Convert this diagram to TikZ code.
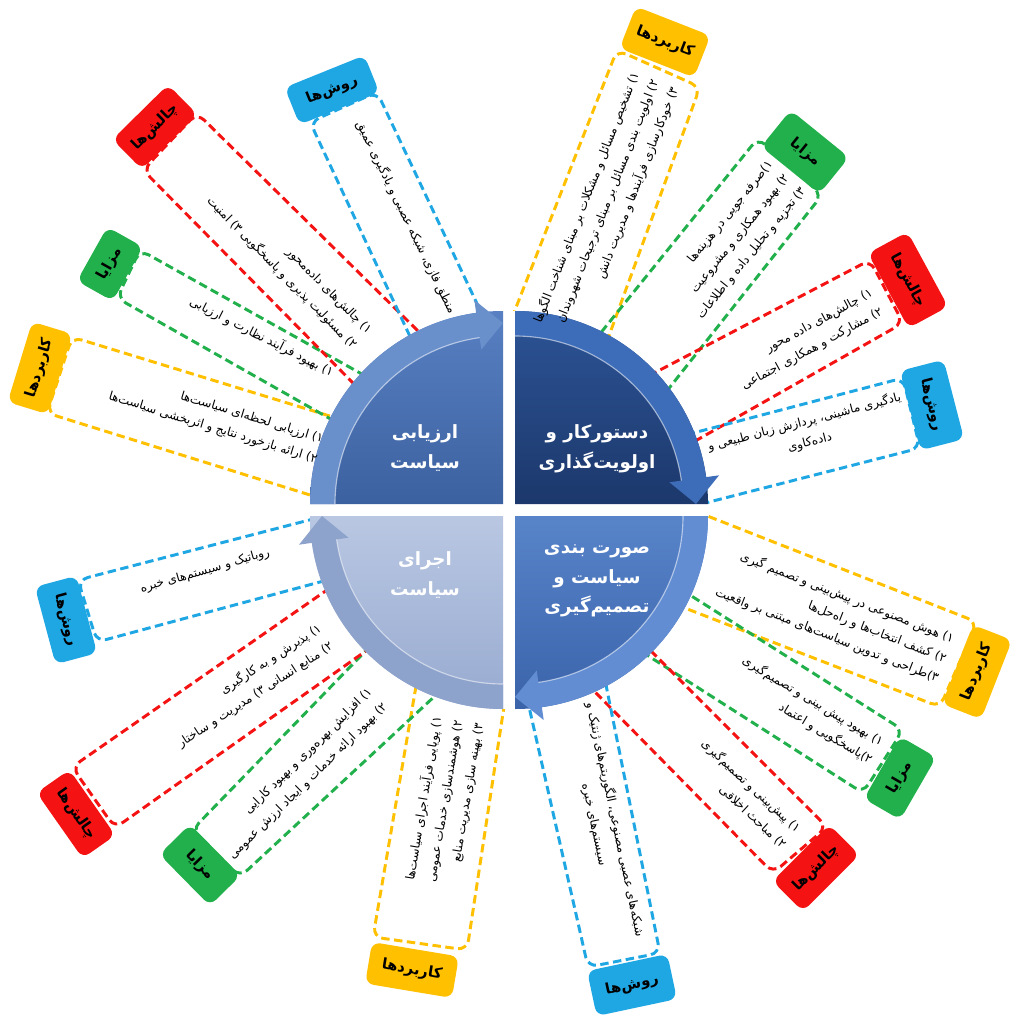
\documentclass[tikz,border=0pt]{standalone}
\usepackage{fontspec}
\usepackage{tikz}
\usetikzlibrary{calc}
\newfontfamily\farsi[Script=Arabic]{DejaVu Sans}
\TeXXeTstate=1

\definecolor{ycol}{HTML}{FFC000}
\definecolor{gcol}{HTML}{21B04B}
\definecolor{rcol}{HTML}{F41212}
\definecolor{bcol}{HTML}{1FA7E4}
\definecolor{tlA}{HTML}{5880C2}
\definecolor{tlB}{HTML}{3C61A0}
\definecolor{tlR}{HTML}{6A90CC}
\definecolor{trA}{HTML}{2D5496}
\definecolor{trB}{HTML}{1C386C}
\definecolor{trR}{HTML}{3D6CB8}
\definecolor{brA}{HTML}{5884CA}
\definecolor{brB}{HTML}{3A63AA}
\definecolor{brR}{HTML}{628DD2}
\definecolor{blA}{HTML}{B9C7E2}
\definecolor{blB}{HTML}{97AAD0}
\definecolor{blR}{HTML}{8EA3CC}

\newcommand{\fa}[1]{\beginR #1\endR}

% dashed strip: #2 inner dir, #3 outer, #4 outer, #5 inner dir
\newcommand{\branchbox}[5]{%
  \draw[boxline, #1] ($#3!8.5cm!#2$) -- #3 -- #4 -- ($#4!8.5cm!#5$);}

% coloured tag at the outer end of a strip
\newcommand{\tagat}[7]{%
  \node[tagbox, fill=#2, rotate=#4, minimum width=#5cm, minimum height=#6cm] (#1) at #3 {\fa{#7}};}

% one quarter of the cycle: corner, start angle, shading, ring colour
\newcommand{\quadpart}[4]{%
  \shade[#3] #1 -- ($#1+(#2:193)$) arc[start angle=#2, delta angle=90, radius=193] -- cycle;
  \fill[#4] ($#1+(#2:168)$) -- ($#1+(#2:193)$) arc[start angle=#2, delta angle=82, radius=193]
    -- ($#1+(#2+82:206)$) -- ($#1+(#2+90:181)$) -- ($#1+(#2+82:156)$) -- ($#1+(#2+82:168)$)
    arc[start angle=#2+82, delta angle=-82, radius=168] -- cycle;
  \draw[white, opacity=.55, line width=.8pt] ($#1+(#2:168)$) arc[start angle=#2, delta angle=82, radius=168];}

\tikzset{
  boxline/.style={line width=2.1pt, dash pattern=on 6pt off 3.2pt, rounded corners=7pt},
  tagbox/.style={rounded corners=6pt, inner sep=0pt, text=black,
    font=\farsi\bfseries\fontsize{10.5}{12}\selectfont},
  bodytext/.style={inner sep=0pt, align=right, font=\farsi\fontsize{8.6}{15}\selectfont},
  quadtext/.style={align=center, text=white, font=\farsi\bfseries\fontsize{13}{21}\selectfont}
}

\begin{document}
\begin{tikzpicture}[x=0.025cm, y=-0.025cm]
\fill[white] (0,0) rectangle (1018,1018);

% strips, top right
\branchbox{ycol}{(515,310)}{(617,50)}{(700,87)}{(610,333)}
\branchbox{gcol}{(603,330)}{(758,138)}{(822,195)}{(670,387)}
\branchbox{rcol}{(660,370)}{(870,260)}{(903,323)}{(697,440)}
\branchbox{bcol}{(697,432)}{(903,378)}{(920,448)}{(717,500)}
% strips, bottom right
\branchbox{ycol}{(710,517)}{(977,622)}{(940,707)}{(690,610)}
\branchbox{gcol}{(693,597)}{(903,730)}{(863,793)}{(650,657)}
\branchbox{rcol}{(653,653)}{(827,827)}{(773,873)}{(600,697)}
\branchbox{bcol}{(607,690)}{(660,953)}{(588,967)}{(532,720)}
% strips, bottom left
\branchbox{ycol}{(505,700)}{(467,950)}{(373,937)}{(415,692)}
\branchbox{gcol}{(380,747)}{(240,877)}{(192,830)}{(350,667)}
\branchbox{rcol}{(363,653)}{(115,828)}{(72,767)}{(327,590)}
\branchbox{bcol}{(320,582)}{(97,642)}{(78,580)}{(317,518)}
% strips, top left
\branchbox{ycol}{(310,495)}{(47,413)}{(72,337)}{(333,417)}
\branchbox{gcol}{(327,417)}{(117,298)}{(140,250)}{(360,373)}
\branchbox{rcol}{(353,383)}{(143,170)}{(197,113)}{(417,330)}
\branchbox{bcol}{(407,330)}{(310,122)}{(377,92)}{(480,310)}

% the cycle
\fill[white] (509,510) circle[radius=199];
\quadpart{(503,504)}{180}{top color=tlA, bottom color=tlB}{tlR}
\quadpart{(515,504)}{270}{top color=trA, bottom color=trB}{trR}
\quadpart{(515,516)}{0}{top color=brA, bottom color=brB}{brR}
\quadpart{(503,516)}{90}{top color=blA, bottom color=blB}{blR}

\node[quadtext] (evaluation) at (425,448) {\fa{ارزیابی}\\\fa{سیاست}};
\node[quadtext] (agenda) at (597,449) {\fa{دستورکار و}\\\fa{اولویت‌گذاری}};
\node[quadtext] (formulation) at (597,581) {\fa{صورت بندی}\\\fa{سیاست و}\\\fa{تصمیم‌گیری}};
\node[quadtext] (implementation) at (425,575) {\fa{اجرای}\\\fa{سیاست}};

% tags
\tagat{useA}{ycol}{(665,42)}{-21.4}{2}{1.125}{کاربردها}
\tagat{proA}{gcol}{(805,152)}{-39}{1.875}{1.175}{مزایا}
\tagat{conA}{rcol}{(908,280)}{-61.5}{2.125}{1.125}{چالش‌ها}
\tagat{metA}{bcol}{(932,405)}{-75.5}{2.05}{1.125}{روش‌ها}
\tagat{useB}{ycol}{(977,672)}{68.6}{2.125}{1.05}{کاربردها}
\tagat{proB}{gcol}{(900,778)}{60}{1.8}{1.05}{مزایا}
\tagat{conB}{rcol}{(816,868)}{45}{2}{1.075}{چالش‌ها}
\tagat{metB}{bcol}{(632,985)}{12}{2.05}{1.15}{روش‌ها}
\tagat{useC}{ycol}{(412,970)}{-9.5}{2.2}{1.05}{کاربردها}
\tagat{proC}{gcol}{(200,865)}{-45.5}{1.8}{1.075}{مزایا}
\tagat{conC}{rcol}{(76,814)}{-55}{2}{1}{چالش‌ها}
\tagat{metC}{bcol}{(66,620)}{-75}{2}{1.075}{روش‌ها}
\tagat{useD}{ycol}{(40,368)}{73}{2.1}{1.05}{کاربردها}
\tagat{proD}{gcol}{(110,264)}{60.7}{1.55}{1.025}{مزایا}
\tagat{conD}{rcol}{(155,127)}{44.6}{1.95}{1.05}{چالش‌ها}
\tagat{metD}{bcol}{(332,90)}{22}{2.15}{1}{روش‌ها}

% texts along the strips
\node[bodytext, anchor=east, rotate=68.6] (txtuseA) at (655,80)
  {\fa{۱) تشخیص مسائل و مشکلات بر مبنای شناخت الگوها}\\\fa{۲) اولویت بندی مسائل بر مبنای ترجیحات شهروندان}\\\fa{۳) خودکارسازی فرآیندها و مدیریت دانش}};
\node[bodytext, anchor=east, rotate=51] (txtproA) at (787,176)
  {\fa{۱)صرفه جویی در هزینه‌ها}\\\fa{۲) بهبود همکاری و مشروعیت}\\\fa{۳) تجزیه و تحلیل داده و اطلاعات}};
\node[bodytext, anchor=east, rotate=28.5] (txtconA) at (877,302)
  {\fa{۱) چالش‌های داده محور}\\\fa{۲) مشارکت و همکاری اجتماعی}};
\node[bodytext, align=center, rotate=14.5] (txtmetA) at (807,432)
  {\fa{یادگیری ماشینی، پردازش زبان طبیعی و}\\\fa{داده‌کاوی}};
\node[bodytext, anchor=east, rotate=-21.4] (txtuseB) at (946,659)
  {\fa{۱) هوش مصنوعی در پیش‌بینی و تصمیم گیری}\\\fa{۲) کشف انتخاب‌ها و راه‌حل‌ها}\\\fa{۳)طراحی و تدوین سیاست‌های مبتنی بر واقعیت}};
\node[bodytext, anchor=east, rotate=-31] (txtproB) at (877,752)
  {\fa{۱) بهبود پیش بینی و تصمیم‌گیری}\\\fa{۲)پاسخگویی و اعتماد}};
\node[bodytext, anchor=east, rotate=-43] (txtconB) at (792,838)
  {\fa{۱) پیش‌بینی و تصمیم‌گیری}\\\fa{۲) مباحث اخلاقی}};
\node[bodytext, align=center, rotate=-78] (txtmetB) at (605,822)
  {\fa{شبکه‌های عصبی مصنوعی، الگوریتم‌های ژنتیک و}\\\fa{سیستم‌های خبره}};
\node[bodytext, anchor=east, rotate=80.5] (txtuseC) at (458,720)
  {\fa{۱) پویایی فرآیند اجرای سیاست‌ها}\\\fa{۲) هوشمندسازی خدمات عمومی}\\\fa{۳) بهینه سازی مدیریت منابع}};
\node[bodytext, anchor=east, rotate=44.5] (txtproC) at (378,698)
  {\fa{۱) افزایش بهره‌وری و بهبود کارایی}\\\fa{۲) بهبود ارائه خدمات و ایجاد ارزش عمومی}};
\node[bodytext, anchor=east, rotate=33] (txtconC) at (326,636)
  {\fa{۱) پذیرش و به کارگیری}\\\fa{۲) منابع انسانی ۳) مدیریت و ساختار}};
\node[bodytext, align=center, rotate=16] (txtmetC) at (205,571)
  {\fa{روباتیک و سیستم‌های خبره}};
\node[bodytext, anchor=east, rotate=-17] (txtuseD) at (320,450)
  {\fa{۱) ارزیابی لحظه‌ای سیاست‌ها}\\\fa{۲) ارائه بازخورد نتایج و اثربخشی سیاست‌ها}};
\node[bodytext, anchor=east, rotate=-27] (txtproD) at (333,373)
  {\fa{۱) بهبود فرآیند نظارت و ارزیابی}};
\node[bodytext, anchor=east, rotate=-45.4] (txtconD) at (362,340)
  {\fa{۱) چالش‌های داده‌محور}\\\fa{۲) مسئولیت پذیری و پاسخگویی ۳) امنیت}};
\node[bodytext, anchor=east, rotate=-64] (txtmetD) at (453,313)
  {\fa{منطق فازی، شبکه عصبی و یادگیری عمیق}};
\end{tikzpicture}
\end{document}
